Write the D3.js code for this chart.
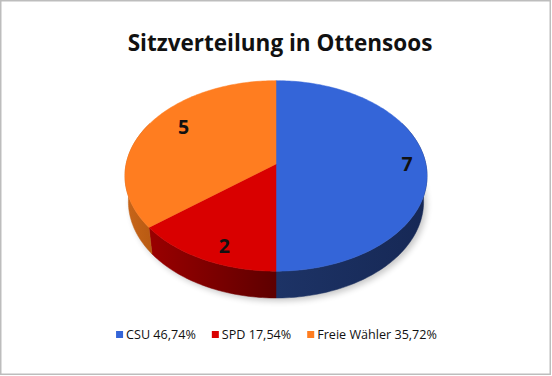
<!DOCTYPE html>
<html><head><meta charset="utf-8">
<script src="https://cdn.jsdelivr.net/npm/d3@7"></script>
<style>html,body{margin:0;padding:0;background:#fff}svg{display:block}</style>
</head><body>
<svg id="c" width="552" height="376"></svg>
<script>
// ---- data ----
const title = "Sitzverteilung in Ottensoos";
const parties = ["CSU", "SPD", "Freie Wähler"];
const seats = [7, 2, 5];
const voteShares = ["46,74%", "17,54%", "35,72%"];

// ---- styles / layout ----
const topColors = ["#3465d8", "#d90000", "#ff7d20"];
const sideColors = [["#1d3366", "#162855"], ["#9a0000", "#5e0000"], ["#c8661a", "#b85a12"]];
const labelPlace = [{r: 0.875, da: 0}, {r: 0.85, da: -4.3}, {r: 0.77, da: 6.8}];

const svg = d3.select("#c");
const W = 552, H = 376;
svg.append("rect").attr("x", 0.75).attr("y", 0.75).attr("width", W - 2.5).attr("height", H - 2.5)
  .attr("fill", "#fff").attr("stroke", "#bdbdbd").attr("stroke-width", 1.5);

// perspective projection of a unit disk
const cx = 276, cy = 164, f = 935, d = 6.24, alpha = Math.acos(0.78), depth = 0.227;
const sa = Math.sin(alpha), ca = Math.cos(alpha);
function proj(theta, r, Y) {
  const X = r * Math.sin(theta), Z = r * Math.cos(theta);
  const yc = Y * ca + Z * sa, zc = d + Z * ca - Y * sa;
  return [cx + f * X / zc, cy - f * yc / zc];
}
const pie = d3.pie().sort(null).value(v => v)(seats);
const defs = svg.append("defs");

// soft shadow
defs.append("filter").attr("id", "blur").attr("x", "-20%").attr("y", "-20%").attr("width", "140%").attr("height", "140%")
  .append("feGaussianBlur").attr("stdDeviation", 3);
const shadowPts = d3.range(0, 361, 5).map(a => proj(a * Math.PI / 180, 1.0, -depth)).map(p => [p[0] + 3, p[1] + 3]);
svg.append("path").attr("d", d3.line()(shadowPts) + "Z").attr("fill", "#000").attr("opacity", 0.22)
  .attr("filter", "url(#blur)");

const line = d3.line();
function arcPts(a0, a1, r, Y) {
  const n = Math.max(2, Math.ceil((a1 - a0) / 0.02));
  return d3.range(n + 1).map(i => proj(a0 + (a1 - a0) * i / n, r, Y));
}
// side walls
pie.forEach((s, i) => {
  const lo = Math.max(s.startAngle, Math.PI * 0.35), hi = Math.min(s.endAngle, Math.PI * 1.65);
  if (hi <= lo) return;
  const top = arcPts(lo, hi, 1, 0), bot = arcPts(lo, hi, 1, -depth).reverse();
  const gid = "g" + i;
  const xs = top.concat(bot).map(p => p[0]);
  const g = defs.append("linearGradient").attr("id", gid).attr("gradientUnits", "userSpaceOnUse")
    .attr("x1", d3.min(xs)).attr("x2", d3.max(xs)).attr("y1", 0).attr("y2", 0);
  g.append("stop").attr("offset", "0%").attr("stop-color", sideColors[i][0]);
  g.append("stop").attr("offset", "100%").attr("stop-color", sideColors[i][1]);
  svg.append("path").attr("d", line(top.concat(bot)) + "Z").attr("fill", `url(#${gid})`)
    .attr("stroke", `url(#${gid})`).attr("stroke-width", 0.5);
});
// top faces
pie.forEach((s, i) => {
  const pts = [proj(0, 0, 0)].concat(arcPts(s.startAngle, s.endAngle, 1, 0));
  svg.append("path").attr("d", line(pts) + "Z").attr("fill", topColors[i])
    .attr("stroke", topColors[i]).attr("stroke-width", 0.5);
});
// labels
pie.forEach((s, i) => {
  const a = (s.startAngle + s.endAngle) / 2 + labelPlace[i].da * Math.PI / 180;
  const p = proj(a, labelPlace[i].r, 0);
  svg.append("text").attr("x", p[0]).attr("y", p[1] + 7).attr("text-anchor", "middle")
    .attr("font-family", "Open Sans").attr("font-weight", "bold").attr("font-size", 19.5)
    .attr("fill", "#111").text(seats[i]);
});

// title
const t = svg.append("text").attr("x", cx + 4).attr("y", 51).attr("text-anchor", "middle")
  .attr("font-family", "Open Sans").attr("font-weight", "bold").attr("font-size", 20)
  .attr("fill", "#111").text(title);
const tw = t.node().getComputedTextLength();
t.attr("font-size", 20 * 305 / tw);

// legend
const lg = svg.append("g");
const items = parties.map((p, i) => p + " " + voteShares[i]);
const fs = 12.6;
let x = 0;
items.forEach((txt, i) => {
  lg.append("rect").attr("x", x).attr("y", -8).attr("width", 7).attr("height", 7).attr("fill", topColors[i]);
  const tt = lg.append("text").attr("x", x + 10).attr("y", 0).attr("font-family", "Open Sans")
    .attr("font-size", fs).attr("fill", "#111").text(txt);
  const w = tt.node().getComputedTextLength();
  x += 10 + w + 16;
});
const total = x - 16;
lg.attr("transform", `translate(${276.5 - total / 2},339)`);
</script>
</body></html>
